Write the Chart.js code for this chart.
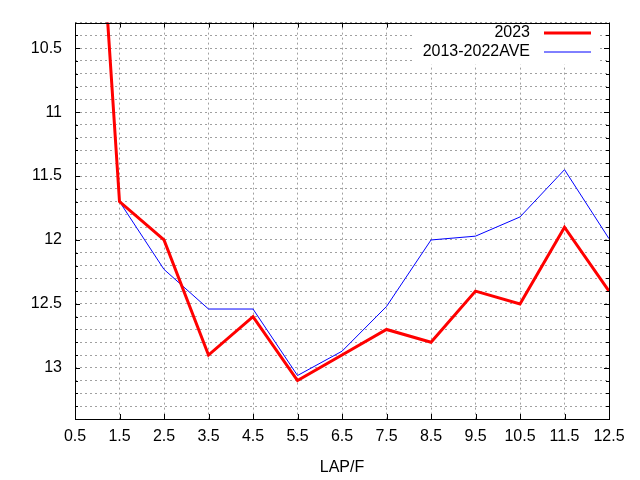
<!DOCTYPE html>
<html>
<head>
<meta charset="utf-8">
<script src="https://cdn.jsdelivr.net/npm/chart.js@4/dist/chart.umd.min.js"></script>
<style>
  html, body { margin: 0; padding: 0; background: #fff; }
  #wrap { width: 640px; height: 480px; }
</style>
</head>
<body>
<div id="wrap"><canvas id="myChart"></canvas></div>
<script>
// lap positions (furlong) and lap times
var laps = [0.5, 1.5, 2.5, 3.5, 4.5, 5.5, 6.5, 7.5, 8.5, 9.5, 10.5, 11.5, 12.5];
var lap2023 = [6.4, 11.7, 12.0, 12.9, 12.6, 13.1, 12.9, 12.7, 12.8, 12.4, 12.5, 11.9, 12.4];
var lapAve = [6.5, 11.7, 12.23, 12.54, 12.54, 13.06, 12.87, 12.52, 12.0, 11.97, 11.82, 11.45, 11.99];
var seriesNames = ['2023', '2013-2022AVE'];

var FONT = '"Liberation Sans", Arial, sans-serif';

function points(ys) {
    return laps.map(function (x, i) { return { x: x, y: ys[i] }; });
}

function isMajor(v) {
    return Math.abs(v * 2 - Math.round(v * 2)) < 1e-6;
}

// gnuplot style frame: box, inward ticks, legend at top right
var framePlugin = {
    id: 'frame',
    afterDatasetsDraw: function (chart) {
        var c = chart.ctx, a = chart.chartArea;
        var xs = chart.scales.x, ys = chart.scales.y;
        c.save();
        c.strokeStyle = '#000';
        c.lineWidth = 1;
        c.beginPath();
        ys.ticks.forEach(function (t) {
            var y = Math.round(ys.getPixelForValue(t.value)) + 0.5;
            var len = isMajor(t.value) ? 5 : 3;
            c.moveTo(a.left, y); c.lineTo(a.left + len, y);
            c.moveTo(a.right, y); c.lineTo(a.right - len, y);
        });
        xs.ticks.forEach(function (t) {
            var x = Math.round(xs.getPixelForValue(t.value)) + 0.5;
            c.moveTo(x, a.bottom); c.lineTo(x, a.bottom - 5);
            c.moveTo(x, a.top); c.lineTo(x, a.top + 5);
        });
        c.stroke();

        // legend
        c.fillStyle = '#fff';
        c.fillRect(413, a.top + 1, 185, 41);
        c.font = '16px ' + FONT;
        c.textAlign = 'right';
        c.textBaseline = 'middle';
        chart.data.datasets.forEach(function (ds, i) {
            var y = 33 + i * 19;
            c.fillStyle = '#000';
            c.fillText(ds.label, 530, y);
            c.strokeStyle = ds.borderColor;
            c.lineWidth = ds.borderWidth;
            c.beginPath();
            c.moveTo(544, y);
            c.lineTo(591, y);
            c.stroke();
        });

        c.strokeStyle = '#000';
        c.lineWidth = 1;
        c.strokeRect(Math.round(a.left) + 0.5, Math.round(a.top) + 0.5,
            Math.round(a.right - a.left), Math.round(a.bottom - a.top));
        c.restore();
    }
};

document.addEventListener('DOMContentLoaded', function () {
    Chart.defaults.font.family = FONT;
    Chart.defaults.font.size = 16;
    Chart.defaults.color = '#000';

    var ctx = document.getElementById('myChart').getContext('2d');
    var myChart = new Chart(ctx, {
        type: 'line',
        data: {
            datasets: [{
                label: seriesNames[0],
                data: points(lap2023),
                borderColor: '#ff0000',
                borderWidth: 3,
                pointRadius: 0,
                tension: 0,
                order: 0
            }, {
                label: seriesNames[1],
                data: points(lapAve),
                borderColor: '#0000ff',
                borderWidth: 1,
                pointRadius: 0,
                tension: 0,
                order: 1
            }]
        },
        options: {
            responsive: true,
            maintainAspectRatio: false,
            animation: false,
            layout: { padding: { top: 19, right: 31, left: 0, bottom: 0 } },
            plugins: {
                legend: { display: false },
                tooltip: { enabled: false }
            },
            scales: {
                x: {
                    type: 'linear',
                    min: 0.5,
                    max: 12.5,
                    ticks: {
                        stepSize: 1,
                        padding: 8,
                        maxRotation: 0,
                        autoSkip: false,
                        callback: function (v) { return v.toFixed(1); }
                    },
                    grid: { color: '#a0a0a0', drawTicks: false },
                    border: { display: false, dash: [2, 3] },
                    title: { display: true, text: 'LAP/F', padding: { top: 4, bottom: 3 } },
                    afterFit: function (s) { s.height = 61; }
                },
                y: {
                    type: 'linear',
                    reverse: true,
                    min: 10.3,
                    max: 13.4,
                    ticks: {
                        stepSize: 0.1,
                        padding: 13,
                        autoSkip: false,
                        callback: function (v) {
                            return isMajor(v) ? String(+v.toFixed(1)) : '';
                        }
                    },
                    grid: { color: '#a0a0a0', drawTicks: false },
                    border: { display: false, dash: [2, 3] },
                    afterFit: function (s) { s.width = 75; }
                }
            }
        },
        plugins: [framePlugin]
    });
});
</script>
</body>
</html>
